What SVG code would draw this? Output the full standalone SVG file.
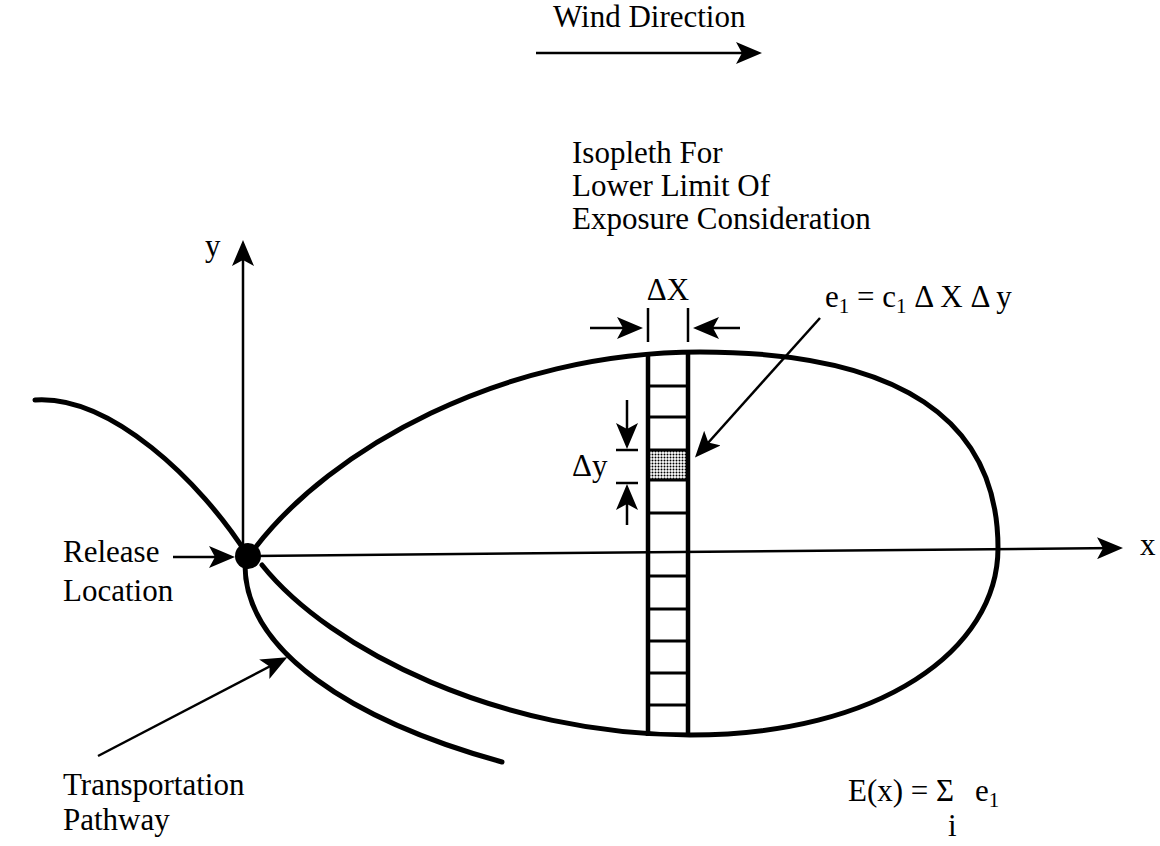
<svg xmlns="http://www.w3.org/2000/svg" width="1160" height="846" viewBox="0 0 1160 846">
<style>
.t{font-family:"Liberation Serif","Times New Roman",serif;font-size:31px;fill:#000}
.thick{fill:none;stroke:#000;stroke-width:5;stroke-linecap:round}
.axis{fill:none;stroke:#000;stroke-width:2.5}
.thin{fill:none;stroke:#000;stroke-width:2.5}
.col{fill:none;stroke:#000;stroke-width:4.5}
.div{stroke:#000;stroke-width:3}
</style>
<defs>
<marker id="ah" viewBox="0 0 26 22" markerWidth="26" markerHeight="22" refX="20" refY="11" orient="auto" markerUnits="userSpaceOnUse">
<path d="M0,0 L26,11 L0,22 L6,11 z" fill="#000"/>
</marker>
<pattern id="dots" width="3" height="3" patternUnits="userSpaceOnUse">
<rect width="3" height="3" fill="#fff"/>
<circle cx="1.5" cy="1.5" r="1" fill="#000"/>
</pattern>
</defs>
<rect width="1160" height="846" fill="#fff"/>

<g id="wind">
<text class="t" x="553" y="27">Wind Direction</text>
</g>

<g id="isopleth-label">
<text class="t" x="572" y="163">Isopleth For</text>
<text class="t" x="572" y="196">Lower Limit Of</text>
<text class="t" x="572" y="229">Exposure Consideration</text>
</g>

<g id="plume">
<path class="thick" d="M255,548 C330,450 500,352 700,352 C900,352 998,420 998,548 C998,650 880,735 690,735 C500,735 330,650 262,565"/>
</g>

<g id="strip">
<rect x="648" y="450" width="40" height="30" fill="url(#dots)"/>
<line class="col" x1="648" y1="352" x2="648" y2="736"/>
<line class="col" x1="688" y1="351" x2="688" y2="736"/>
<g class="div">
<line x1="648" y1="386" x2="688" y2="386"/>
<line x1="648" y1="417" x2="688" y2="417"/>
<line x1="648" y1="450" x2="688" y2="450"/>
<line x1="648" y1="480" x2="688" y2="480"/>
<line x1="648" y1="513" x2="688" y2="513"/>
<line x1="648" y1="576" x2="688" y2="576"/>
<line x1="648" y1="609" x2="688" y2="609"/>
<line x1="648" y1="641" x2="688" y2="641"/>
<line x1="648" y1="673" x2="688" y2="673"/>
<line x1="648" y1="705" x2="688" y2="705"/>
</g>
</g>

<g id="pathway">
<path class="thick" d="M35,400 C110,395 200,480 248,556"/>
<path class="thick" d="M245,565 C245,650 350,720 502,762"/>
</g>

<g id="release">
<circle cx="248" cy="556" r="13" fill="#000"/>
<text class="t" x="63" y="562">Release</text>
<text class="t" x="63" y="601">Location</text>
</g>

<g id="transport-label">
<text class="t" x="63" y="795">Transportation</text>
<text class="t" x="63" y="830">Pathway</text>
</g>

<g id="dx-label">
<text class="t" x="668" y="300" text-anchor="middle">ΔX</text>
<line class="thin" x1="648" y1="308" x2="648" y2="342"/>
<line class="thin" x1="688" y1="308" x2="688" y2="342"/>
</g>

<g id="dy-label">
<text class="t" x="572" y="476">Δy</text>
<line class="thin" x1="616" y1="450" x2="638" y2="450"/>
<line class="thin" x1="616" y1="483" x2="638" y2="483"/>
</g>

<g id="e1-label">
<text class="t" x="825" y="307">e<tspan font-size="21" dy="6">1</tspan><tspan dy="-6"> =  c</tspan><tspan font-size="21" dy="6">1</tspan><tspan dy="-6"> Δ X Δ y</tspan></text>
</g>

<g id="sum-label">
<text class="t" x="848" y="801">E(x) = Σ</text>
<text class="t" x="975" y="801">e<tspan font-size="21" dy="6">1</tspan></text>
<text class="t" x="948" y="836" font-size="22">i</text>
</g>

<g id="axes">
<text class="t" x="205" y="256">y</text>
<text class="t" x="1140" y="555">x</text>
</g>

<g id="connectors">
<line class="axis" x1="248" y1="556" x2="1117" y2="548" marker-end="url(#ah)"/>
<line class="axis" x1="243" y1="556" x2="243" y2="246" marker-end="url(#ah)"/>
<line class="thin" x1="536" y1="53" x2="756" y2="53" marker-end="url(#ah)"/>
<line class="thin" x1="173" y1="557" x2="229" y2="557" marker-end="url(#ah)"/>
<line class="thin" x1="98" y1="756" x2="282" y2="660" marker-end="url(#ah)"/>
<line class="thin" x1="590" y1="328" x2="637" y2="328" marker-end="url(#ah)"/>
<line class="thin" x1="740" y1="328" x2="699" y2="328" marker-end="url(#ah)"/>
<line class="thin" x1="627" y1="400" x2="627" y2="443" marker-end="url(#ah)"/>
<line class="thin" x1="627" y1="525" x2="627" y2="490" marker-end="url(#ah)"/>
<line class="thin" x1="820" y1="318" x2="699" y2="453" marker-end="url(#ah)"/>
</g>
</svg>
